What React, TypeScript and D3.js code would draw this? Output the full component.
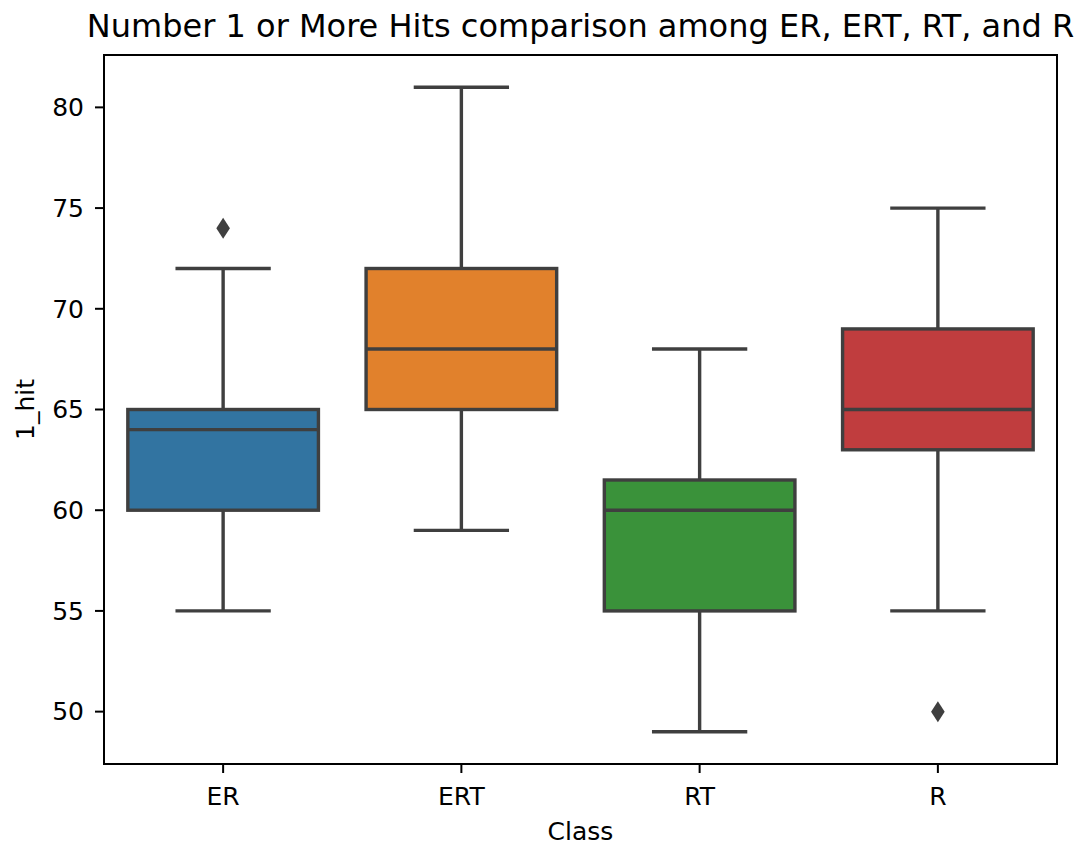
import React from "react";
import * as d3 from "d3";

const categories = ["ER", "ERT", "RT", "R"];
const whiskerLow = [55, 59, 49, 55];
const q1 = [60, 65, 55, 63];
const median = [64, 68, 60, 65];
const q3 = [65, 72, 61.5, 69];
const whiskerHigh = [72, 81, 68, 75];
const outliers: number[][] = [[74], [], [], [50]];
const colors = ["#3274a1", "#e1812c", "#3a923a", "#c03d3e"];
const yTicks = [50, 55, 60, 65, 70, 75, 80];

const W = 1081;
const H = 851;
const left = 104;
const right = 1057;
const top = 55;
const bottom = 764;
const lineColor = "#3f3f3f";
const font = "DejaVu Sans, sans-serif";

export default function App() {
  const x = d3.scaleBand<string>().domain(categories).range([left, right]).padding(0);
  const y = d3.scaleLinear().domain([47.4, 82.6]).range([bottom, top]);
  const bw = x.bandwidth();
  const boxW = bw * 0.8;
  const capW = boxW * 0.5;
  const lw = 3.4;

  return (
    <div style={{ position: "absolute", left: 0, top: 0 }}>
      <svg width={W} height={H} style={{ display: "block", background: "#fff" }}>
        <text x={(left + right) / 2} y={37} textAnchor="middle" fontFamily={font} fontSize={32} fill="#000">
          Number 1 or More Hits comparison among ER, ERT, RT, and R
        </text>
        {categories.map((c, i) => {
          const cx = (x(c) as number) + bw / 2;
          return (
            <g key={c}>
              <line x1={cx} x2={cx} y1={y(q3[i])} y2={y(whiskerHigh[i])} stroke={lineColor} strokeWidth={lw} />
              <line x1={cx} x2={cx} y1={y(q1[i])} y2={y(whiskerLow[i])} stroke={lineColor} strokeWidth={lw} />
              <line x1={cx - capW / 2} x2={cx + capW / 2} y1={y(whiskerHigh[i])} y2={y(whiskerHigh[i])} stroke={lineColor} strokeWidth={lw} />
              <line x1={cx - capW / 2} x2={cx + capW / 2} y1={y(whiskerLow[i])} y2={y(whiskerLow[i])} stroke={lineColor} strokeWidth={lw} />
              <rect
                x={cx - boxW / 2}
                y={y(q3[i])}
                width={boxW}
                height={y(q1[i]) - y(q3[i])}
                fill={colors[i]}
                stroke={lineColor}
                strokeWidth={lw}
              />
              <line x1={cx - boxW / 2} x2={cx + boxW / 2} y1={y(median[i])} y2={y(median[i])} stroke={lineColor} strokeWidth={lw} />
              {outliers[i].map((v, j) => (
                <path
                  key={j}
                  transform={`translate(${cx},${y(v)})`}
                  d="M0,-10.5L6.8,0L0,10.5L-6.8,0Z"
                  fill={lineColor}
                />
              ))}
            </g>
          );
        })}
        <rect x={left} y={top} width={right - left} height={bottom - top} fill="none" stroke="#000" strokeWidth={2} />
        {yTicks.map((t) => (
          <g key={t}>
            <line x1={left - 9} x2={left} y1={y(t)} y2={y(t)} stroke="#000" strokeWidth={2} />
            <text x={left - 20} y={y(t)} dy="0.35em" textAnchor="end" fontFamily={font} fontSize={25} fill="#000">
              {t}
            </text>
          </g>
        ))}
        {categories.map((c) => {
          const cx = (x(c) as number) + bw / 2;
          return (
            <g key={c}>
              <line x1={cx} x2={cx} y1={bottom} y2={bottom + 9} stroke="#000" strokeWidth={2} />
              <text x={cx} y={805} textAnchor="middle" fontFamily={font} fontSize={25} fill="#000">
                {c}
              </text>
            </g>
          );
        })}
        <text x={(left + right) / 2} y={840} textAnchor="middle" fontFamily={font} fontSize={25} fill="#000">
          Class
        </text>
        <text
          transform={`translate(34,${(top + bottom) / 2}) rotate(-90)`}
          textAnchor="middle"
          fontFamily={font}
          fontSize={25}
          fill="#000"
        >
          1_hit
        </text>
      </svg>
    </div>
  );
}
